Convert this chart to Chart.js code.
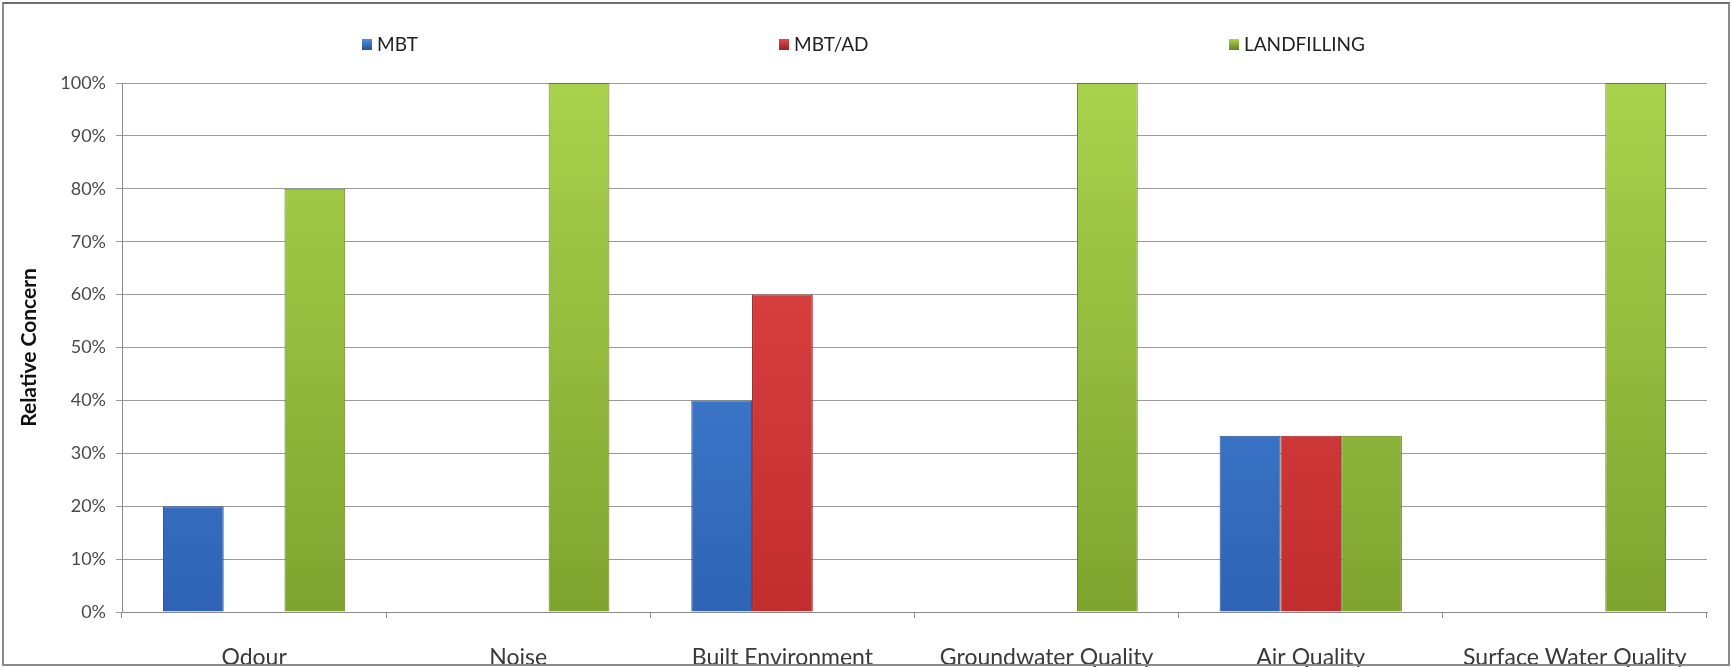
<!DOCTYPE html>
<html>
<head>
<meta charset="utf-8">
<script src="https://cdn.jsdelivr.net/npm/chart.js@4"></script>
<style>
  html, body { margin: 0; padding: 0; background: #fff; overflow: hidden; }
  #wrap { position: relative; width: 1733px; height: 667px; }
  #frame { position: absolute; left: 2px; top: 2px; right: 3px; bottom: 1px;
           border: 2px solid #8a8a8a; border-top-color: #6e6e6e; pointer-events: none; }
  .leg { position: absolute; top: 32px; font: 19px Lato, sans-serif; color: #222; white-space: nowrap; }
  .leg i { display: inline-block; width: 10px; height: 11px; margin-right: 5px; vertical-align: 1px; }
</style>
</head>
<body>
<div id="wrap">
  <canvas id="miGrafico" width="1733" height="667"></canvas>
  <div id="frame"></div>
</div>
<script>
const categorias = ['Odour', 'Noise', 'Built Environment', 'Groundwater Quality', 'Air Quality', 'Surface Water Quality'];
const series = ['MBT', 'MBT/AD', 'LANDFILLING'];
const valoresMBT = [20, 0, 40, 0, 33.3, 0];
const valoresMBTAD = [0, 0, 60, 0, 33.3, 0];
const valoresLandfill = [80, 100, 0, 100, 33.3, 100];
const ticksY = [0, 10, 20, 30, 40, 50, 60, 70, 80, 90, 100];

// top / bottom colours of each bar and its edge
const colores = [
    { top: '#4e8fe2', bottom: '#2e63b5', edge: '#27528f' },
    { top: '#e44a4a', bottom: '#c22d2d', edge: '#962323' },
    { top: '#a9d24c', bottom: '#7ea42f', edge: '#657f26' }
];
const legendLeft = [362, 779, 1229];

function degradado(i) {
    return function (context) {
        const chart = context.chart;
        const area = chart.chartArea;
        if (!area) return colores[i].bottom;
        const g = chart.ctx.createLinearGradient(0, area.top, 0, area.bottom);
        g.addColorStop(0, colores[i].top);
        g.addColorStop(1, colores[i].bottom);
        return g;
    };
}

const valores = [valoresMBT, valoresMBTAD, valoresLandfill];

window.onload = function () {
    // legend built from the series names
    const wrap = document.getElementById('wrap');
    series.forEach(function (nombre, i) {
        const d = document.createElement('div');
        d.className = 'leg';
        d.style.left = legendLeft[i] + 'px';
        d.innerHTML = '<i style="background:linear-gradient(' + colores[i].top + ',' + colores[i].edge + ');"></i>' + nombre;
        wrap.appendChild(d);
    });

    const ctx = document.getElementById('miGrafico').getContext('2d');
    new Chart(ctx, {
        type: 'bar',
        data: {
            labels: categorias,
            datasets: series.map(function (nombre, i) {
                return {
                    label: nombre,
                    data: valores[i],
                    backgroundColor: degradado(i),
                    borderColor: colores[i].edge,
                    borderWidth: 1,
                    categoryPercentage: 0.69,
                    barPercentage: 1
                };
            })
        },
        options: {
            responsive: false,
            animation: false,
            layout: { padding: { top: 83, right: 26, left: 0, bottom: 0 } },
            plugins: {
                legend: { display: false },
                tooltip: { enabled: false }
            },
            scales: {
                x: {
                    grid: {
                        display: true,
                        drawOnChartArea: false,
                        offset: true,
                        tickLength: 6,
                        color: '#8a8a8a'
                    },
                    border: { color: '#8a8a8a', width: 1 },
                    ticks: {
                        padding: 26,
                        maxRotation: 0,
                        autoSkip: false,
                        color: '#3a3a3a',
                        font: { family: 'Lato', size: 23 }
                    },
                    afterFit: function (scale) { scale.height = 55; }
                },
                y: {
                    min: 0,
                    max: 100,
                    afterBuildTicks: function (scale) {
                        scale.ticks = ticksY.map(function (v) { return { value: v }; });
                    },
                    grid: { color: '#9a9a9a', tickLength: 6 },
                    border: { color: '#8a8a8a', width: 1 },
                    ticks: {
                        padding: 10,
                        color: '#4a4a4a',
                        font: { family: 'Lato', size: 18 },
                        callback: function (v) { return v + '%'; }
                    },
                    title: {
                        display: true,
                        text: 'Relative Concern',
                        color: '#111',
                        font: { family: 'Lato', size: 21, weight: 'bold' },
                        padding: { top: 17, bottom: 0 }
                    },
                    afterFit: function (scale) { scale.width = 122; }
                }
            }
        }
    });
};
</script>
</body>
</html>
